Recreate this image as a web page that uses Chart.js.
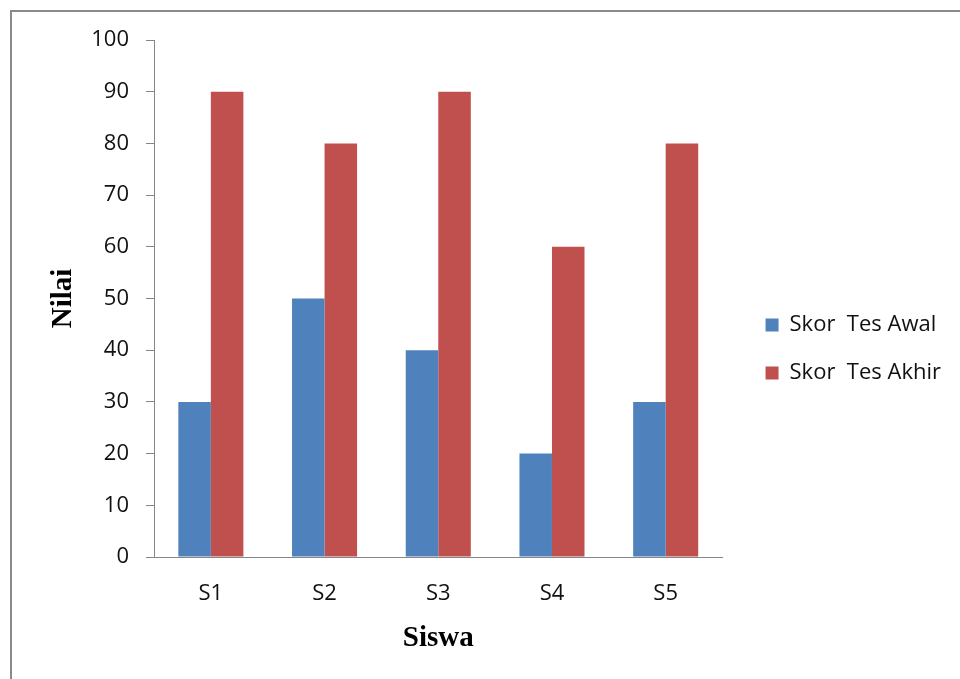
<!DOCTYPE html>
<html>
<head>
<meta charset="utf-8">
<script src="https://cdn.jsdelivr.net/npm/chart.js@4.4.1/dist/chart.umd.min.js"></script>
<style>
  html, body { margin: 0; padding: 0; background: #fff; }
  #wrap { position: relative; width: 960px; height: 679px; }
  #frame {
    position: absolute; left: 10px; top: 10px; width: 950px; height: 669px;
    border-left: 2px solid #8a8a8a; border-top: 2px solid #8a8a8a;
    box-sizing: border-box; pointer-events: none;
  }
  canvas { position: absolute; left: 0; top: 0; }
</style>
</head>
<body>
<div id="wrap">
  <canvas id="chart" width="960" height="679"></canvas>
  <div id="frame"></div>
</div>
<script>
// data
const categories = ['S1', 'S2', 'S3', 'S4', 'S5'];
const skorAwal = [30, 50, 40, 20, 30];
const skorAkhir = [90, 80, 90, 60, 80];
const seriesNames = ['Skor  Tes Awal', 'Skor  Tes Akhir'];
const yMin = 0;
const yMax = 100;
const yStep = 10;

const AXIS = '#868686';
const TEXT = '#111';
const labelFont = { family: '"Open Sans", "Noto Sans", sans-serif', size: 22 };
const titleFont = { family: '"Liberation Serif", "Times New Roman", serif', size: 29, weight: 'bold' };

new Chart(document.getElementById('chart'), {
    type: 'bar',
    data: {
        labels: categories,
        datasets: [
            { label: seriesNames[0], data: skorAwal, backgroundColor: '#4f81bd' },
            { label: seriesNames[1], data: skorAkhir, backgroundColor: '#c0504d' }
        ]
    },
    options: {
        responsive: false,
        animation: false,
        devicePixelRatio: 1,
        categoryPercentage: 0.572,
        barPercentage: 1,
        layout: { padding: { left: 46, top: 19, right: 9, bottom: 0 } },
        plugins: {
            tooltip: { enabled: false },
            legend: {
                position: 'right',
                maxWidth: 400,
                labels: {
                    boxWidth: 13,
                    boxHeight: 13,
                    padding: 26,
                    color: TEXT,
                    font: labelFont
                }
            }
        },
        scales: {
            x: {
                grid: { display: false, drawTicks: false },
                border: { display: true, color: AXIS, width: 1 },
                ticks: { color: TEXT, font: labelFont, padding: 24 },
                title: { display: true, text: 'Siswa', color: '#000', font: titleFont, padding: { top: 0, bottom: 23 } },
                afterFit(s) { s.height = 122; }
            },
            y: {
                min: yMin,
                max: yMax,
                grid: { display: true, drawOnChartArea: false, drawTicks: true, tickLength: 8, color: AXIS },
                border: { display: true, color: AXIS, width: 1 },
                ticks: { stepSize: yStep, color: TEXT, font: labelFont, padding: 17 },
                title: { display: true, text: 'Nilai', color: '#000', font: titleFont, padding: { top: 0, bottom: 0 } },
                afterFit(s) { s.width = 108; }
            },
            // empty spacers that keep the plot area clear of the legend and the top edge
            gapRight: {
                type: 'linear', position: 'right', display: true,
                grid: { display: false }, border: { display: false }, ticks: { display: false },
                afterFit(s) { s.width = 17; }
            },
            gapTop: {
                type: 'linear', position: 'top', display: true,
                grid: { display: false }, border: { display: false }, ticks: { display: false },
                afterFit(s) { s.height = 21; }
            }
        }
    }
});
</script>
</body>
</html>
